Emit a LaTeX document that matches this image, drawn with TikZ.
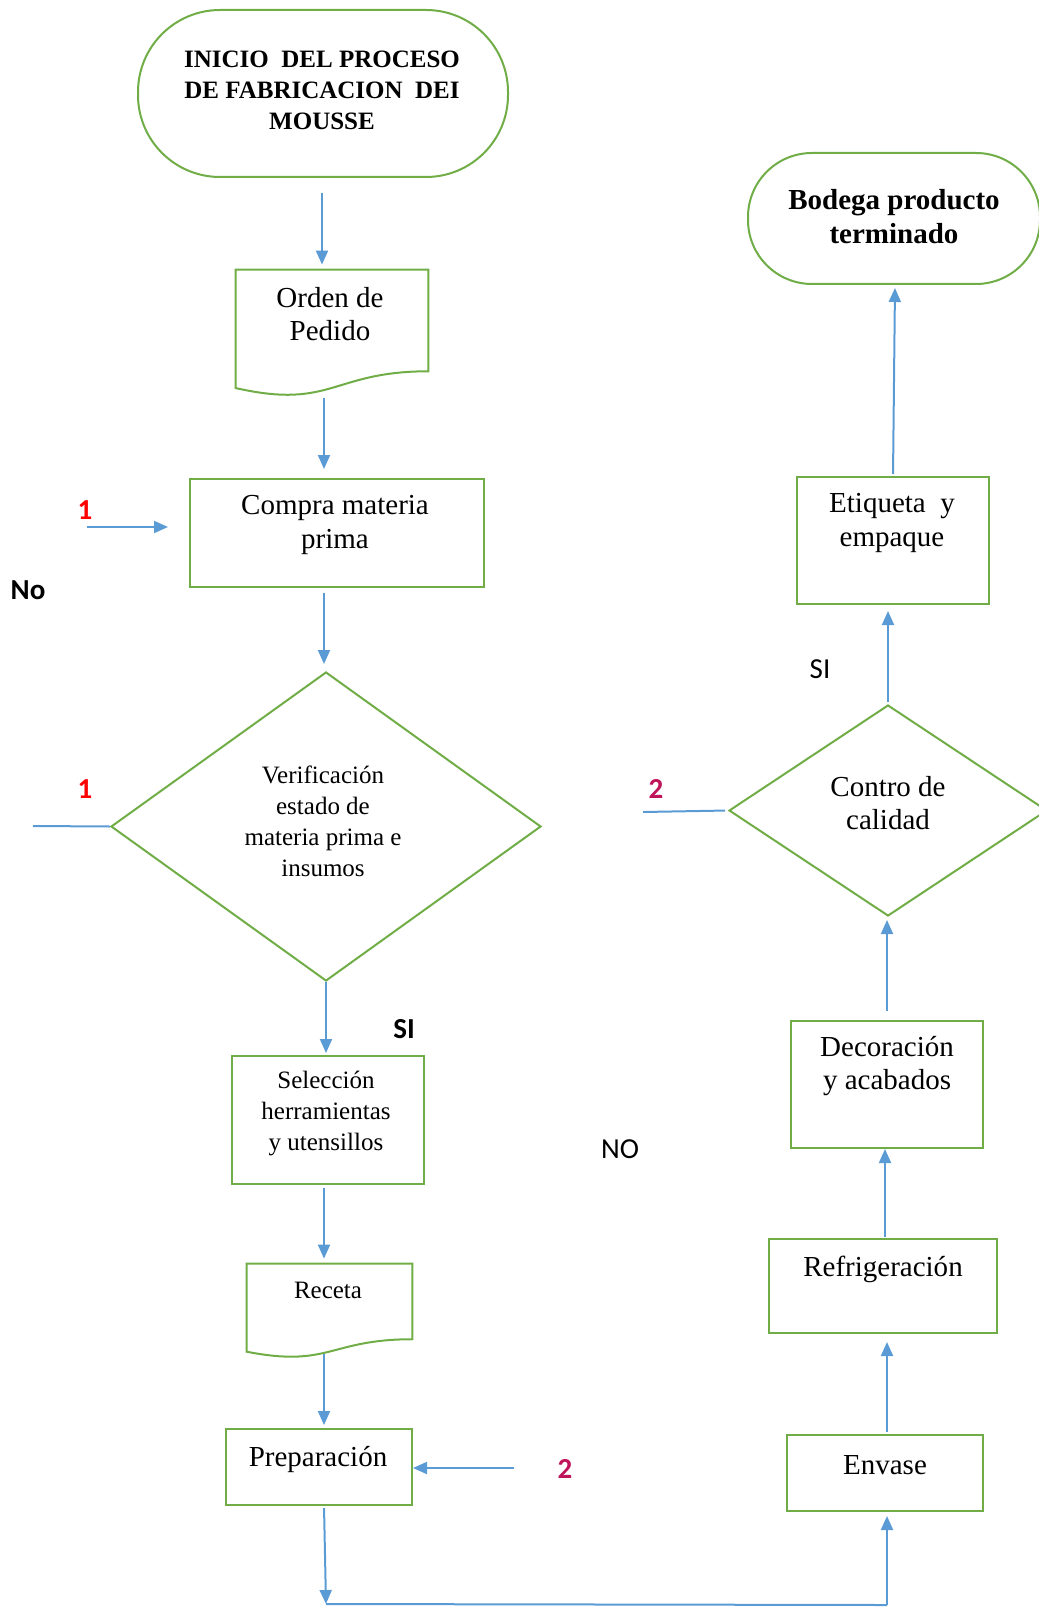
\documentclass[tikz,border=0pt]{standalone}
\usepackage{fontspec}
\setmainfont{Liberation Serif}
\newfontfamily\calib{Carlito}
\usetikzlibrary{arrows.meta,shapes.geometric,calc}
\definecolor{gr}{HTML}{70AD47}
\definecolor{bl}{HTML}{5B9BD5}
\definecolor{crim}{HTML}{C0145A}
\newcommand{\docpath}[1]{\draw[gline] (#1.north west) -- (#1.north east) -- ($(#1.north east)!0.802!(#1.south east)$) .. controls ($(#1.north)!0.802!(#1.south)$) and ($(#1.north)!1.107!(#1.south)$) .. ($(#1.north west)!0.934!(#1.south west)$) -- cycle;}
\begin{document}
\begin{tikzpicture}[x=0.5pt,y=-0.5pt,
 box/.style={draw=gr, line width=1pt, inner sep=0pt},
 shapeonly/.style={draw=none, inner sep=0pt},
 gline/.style={draw=gr, line width=1pt},
 dia/.style={draw=gr, line width=1pt, diamond, inner sep=0pt},
 arr/.style={draw=bl, line width=1pt, -{Triangle[length=7pt,width=6pt]}},
 bline/.style={draw=bl, line width=1pt},
 txtA/.style={font=\fontsize{14.5}{16.75}\selectfont, align=center, inner sep=0pt},
 txtB/.style={font=\fontsize{12.5}{15.5}\selectfont, align=center, inner sep=0pt},
 lbl/.style={font=\calib\fontsize{14.5}{17}\selectfont, inner sep=0pt},
]
\useasboundingbox (0,0) rectangle (1038,1609);
% left column
\node[box, rounded corners=41pt, minimum width=185pt, minimum height=83.5pt] (start) at (323,93.5) {};
\node[font=\bfseries\fontsize{12.5}{15.5}\selectfont, align=center, inner sep=0pt] (starttxt) at (322,90) {INICIO\ \ DEL PROCESO\\DE FABRICACION\ \ DEI\\MOUSSE};
\node[shapeonly, minimum width=96pt, minimum height=63pt] (orden) at (332,333) {};
\docpath{orden}
\node[txtA] (ordentxt) at (330,314) {Orden de\\Pedido};
\node[box, minimum width=147pt, minimum height=54pt] (compra) at (337,533) {};
\node[txtA] (compratxt) at (335,525) {Compra materia\\prima};
\node[dia, minimum width=215pt, minimum height=154.5pt] (dia1) at (326,826.5) {};
\node[txtB] (dia1txt) at (323,821.5) {Verificación\\estado de\\materia prima\ e\\insumos};
\node[box, minimum width=96pt, minimum height=64pt] (sel) at (328,1120) {};
\node[txtB] (seltxt) at (326,1113.5) {Selección\\herramientas\\y utensillos};
\node[shapeonly, minimum width=82.5pt, minimum height=46.75pt] (receta) at (329.5,1310.75) {};
\docpath{receta}
\node[txtB] (recetatxt) at (328,1290) {Receta};
\node[box, minimum width=93pt, minimum height=38pt] (prep) at (319,1467) {};
\node[txtA] (preptxt) at (318,1459) {Preparación};
% right column
\node[box, rounded corners=32pt, minimum width=146pt, minimum height=65.5pt] (bodega) at (894,218.5) {};
\node[font=\bfseries\fontsize{14.5}{17}\selectfont, align=center, inner sep=0pt] (bodegatxt) at (894,217) {Bodega producto\\terminado};
\node[box, minimum width=96pt, minimum height=63.5pt] (etiq) at (893,540.5) {};
\node[txtA] (etiqtxt) at (892,523) {Etiqueta\ \ y\\empaque};
\node[dia, minimum width=159pt, minimum height=105.5pt] (dia2) at (888,810.5) {};
\node[txtA] (dia2txt) at (888,803) {Contro de\\calidad};
\node[box, minimum width=96pt, minimum height=63.5pt] (deco) at (887,1084.5) {};
\node[txtA] (decotxt) at (887,1066) {Decoración\\y acabados};
\node[box, minimum width=114pt, minimum height=47pt] (refrig) at (883,1286) {};
\node[txtA] (refrigtxt) at (883,1269) {Refrigeración};
\node[box, minimum width=98pt, minimum height=38pt] (envase) at (885,1473) {};
\node[txtA] (envasetxt) at (885,1465) {Envase};
% connectors
\draw[arr, shorten <=7.5pt, shorten >=2.5pt] ([xshift=-0.5pt]start.south) -- ([xshift=-0.5pt]start.south |- orden.north);
\draw[arr, shorten <=1pt, shorten >=4.5pt] ([xshift=-4pt]orden.south) -- ([xshift=-4pt]orden.south |- compra.north);
\draw[arr, shorten <=2.5pt, shorten >=3.5pt] ([xshift=-1pt]dia1.north |- compra.south) -- ([xshift=-1pt]dia1.north);
\draw[arr, shorten >=1pt] (dia1.south) -- (dia1.south |- sel.north);
\draw[arr, shorten <=1.5pt, shorten >=2.5pt] ([xshift=-2pt]sel.south) -- ([xshift=-2pt]sel.south |- receta.north);
\draw[arr, shorten >=1.5pt] ([xshift=-2.75pt,yshift=1.75pt]receta.south) -- ([xshift=-2.75pt]receta.south |- prep.north);
\coordinate (c1) at (326,1604);
\coordinate (c2) at (887,1605);
\draw[arr, shorten <=1pt] ([xshift=2.5pt]prep.south) -- (c1);
\draw[bline] (c1) -- (c2);
\draw[arr, shorten >=2pt] (c2) -- (c2 |- envase.south);
\draw[arr, shorten <=1pt, shorten >=4pt] ([xshift=1pt]envase.north) -- ([xshift=1pt]envase.north |- refrig.south);
\draw[arr, shorten <=0.5pt] ([xshift=1pt]refrig.north) -- ([xshift=1pt]refrig.north |- deco.south);
\draw[arr, shorten <=4.5pt, shorten >=1.5pt] (deco.north) -- (deco.north |- dia2.south);
\draw[arr, shorten <=1pt, shorten >=3pt] (dia2.north) -- (dia2.north |- etiq.south);
\draw[arr, shorten <=1pt, shorten >=1.5pt] (etiq.north) -- ([xshift=0.5pt]bodega.south);
\coordinate (in1) at (87,527);
\draw[arr, shorten >=10.5pt] (in1) -- (in1 -| compra.west);
\coordinate (in1b) at (33,826);
\draw[bline] (in1b) -- (dia1.west);
\coordinate (in2) at (643,812);
\draw[bline, shorten >=1.5pt] (in2) -- (dia2.west);
\coordinate (in2b) at (514,1468);
\draw[arr] (in2b) -- (in2b -| prep.east);
% labels
\node[lbl, text=red, font=\calib\bfseries\fontsize{14.5}{17}\selectfont] (l1a) at (85,510) {1};
\node[lbl, text=red, font=\calib\bfseries\fontsize{14.5}{17}\selectfont] (l1b) at (85,789) {1};
\node[lbl, text=crim, font=\calib\bfseries\fontsize{14.5}{17}\selectfont] (l2a) at (656,789) {2};
\node[lbl, text=crim, font=\calib\bfseries\fontsize{14.5}{17}\selectfont] (l2b) at (565,1469) {2};
\node[lbl, font=\calib\bfseries\fontsize{14.5}{17}\selectfont] (no1) at (28,590) {No};
\node[lbl, font=\calib\bfseries\fontsize{14.5}{17}\selectfont] (si1) at (404,1029) {SI};
\node[lbl] (si2) at (820,669) {SI};
\node[lbl] (no2) at (620,1149) {NO};
\end{tikzpicture}
\end{document}
